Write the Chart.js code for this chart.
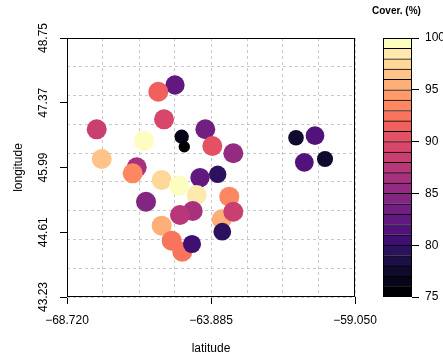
<!DOCTYPE html>
<html>
<head>
<meta charset="utf-8">
<script src="https://cdn.jsdelivr.net/npm/chart.js@4.4.1/dist/chart.umd.min.js"></script>
<style>
  html, body { margin: 0; padding: 0; background: #fff; overflow: hidden; }
  #wrap { position: relative; width: 443px; height: 358px; overflow: hidden; }
  #main { position: absolute; left: 0; top: 0; }
  #bar { position: absolute; left: 0; top: 0; }
  #cbTitle { position: absolute; left: 372px; top: 5px; font: bold 10px 'Liberation Sans', Arial, sans-serif; color: #000; white-space: nowrap; }
</style>
</head>
<body>
<div id="wrap">
  <canvas id="main" width="443" height="358"></canvas>
  <canvas id="bar" width="480" height="358"></canvas>
  <div id="cbTitle">Cover. (%)</div>
</div>
<script>
// stations (drawing order)
const latitude = [-65.094, -65.655, -65.463, -67.723, -66.135, -64.869, -64.782, -64.076, -63.841, -63.136,
  -67.555, -66.380, -66.514, -65.540, -64.959, -64.254, -63.660, -64.365, -66.067, -63.271,
  -63.526, -63.136, -63.506, -64.499, -64.926, -65.540, -65.205, -64.849, -64.523,
  -61.031, -60.393, -60.752, -60.057];
const longitude = [47.748, 47.605, 47.017, 46.804, 46.555, 46.646, 46.433, 46.804, 46.448, 46.293,
  46.171, 45.994, 45.866, 45.724, 45.602, 45.773, 45.845, 45.404, 45.261, 45.368,
  44.886, 45.048, 44.622, 45.063, 44.978, 44.750, 44.430, 44.195, 44.360,
  46.625, 46.668, 46.101, 46.171];
const cover = [82, 91, 89, 88, 99.5, 76, 75, 83, 90, 85,
  96, 86, 93, 97, 99, 82, 79, 98, 84, 93,
  95, 88, 79.5, 86, 87, 95.5, 92, 92, 80,
  77, 81, 81, 77.5];

const xTicks = [-68.720, -63.885, -59.050];
const yTicks = [43.23, 44.61, 45.99, 47.37, 48.75];
const coverTicks = [75, 80, 85, 90, 95, 100];
const coverMin = 75, coverMax = 100;

// magma, 25 bands from 75 to 100
const palette = ['#000004', '#060519', '#100B2D', '#1D1046', '#2C115E', '#3F1072', '#51127C', '#61197F',
  '#711F81', '#822681', '#942B80', '#A6317D', '#B73779', '#C93F72', '#D8466B', '#E55164',
  '#F0605F', '#F8745D', '#FB8861', '#FE9B6B', '#FEAF78', '#FEC388', '#FED799', '#FDEAAC', '#FCFDBF'];

const FONT = "'Liberation Sans', Arial, Helvetica, sans-serif";
const TXT = '#000';

function band(v) { return Math.max(0, Math.min(palette.length - 1, Math.floor(v - coverMin))); }
function fmtTick(v) { return (v < 0 ? '\u2212' : '') + Math.abs(v).toFixed(3); }

const frame = {
  id: 'frame',
  afterDatasetsDraw(chart) {
    const a = chart.chartArea, ctx = chart.ctx;
    ctx.save();
    ctx.strokeStyle = '#000';
    ctx.lineWidth = 1;
    ctx.strokeRect(Math.round(a.left) + 0.5, Math.round(a.top) + 0.5,
      Math.round(a.right - a.left) - 1, Math.round(a.bottom - a.top) - 1);
    ctx.restore();
  }
};

const xMin = xTicks[0], xMax = xTicks[xTicks.length - 1];
const yMin = yTicks[0], yMax = yTicks[yTicks.length - 1];

new Chart(document.getElementById('main'), {
  type: 'scatter',
  data: {
    datasets: [{
      data: latitude.map((x, i) => ({ x: x, y: longitude[i] })),
      pointBackgroundColor: ctx => palette[band(cover[ctx.dataIndex])],
      pointBorderWidth: 0,
      pointRadius: ctx => Math.min(10, 5.7 + 1.5 * Math.sqrt(Math.max(0, cover[ctx.dataIndex] - coverMin))),
      pointHoverRadius: ctx => Math.min(10, 5.7 + 1.5 * Math.sqrt(Math.max(0, cover[ctx.dataIndex] - coverMin)))
    }]
  },
  options: {
    responsive: false, animation: false, devicePixelRatio: 1, events: [],
    layout: { padding: { left: 0, top: 38, right: 88, bottom: 0 } },
    plugins: { legend: { display: false }, tooltip: { enabled: false } },
    scales: {
      x: {
        type: 'linear', position: 'bottom', min: xMin, max: xMax,
        afterBuildTicks: s => { s.ticks = xTicks.map(v => ({ value: v })); },
        afterFit: s => { s.height = 61; },
        grid: { drawOnChartArea: false, tickLength: 7, tickColor: '#000' },
        border: { display: false },
        ticks: { padding: 9, maxRotation: 0, autoSkip: false, color: TXT, font: { family: FONT, size: 12 }, callback: v => fmtTick(v) },
        title: { display: true, text: 'latitude', color: TXT, font: { family: FONT, size: 12 }, padding: { top: 0, bottom: 2 } }
      },
      y: {
        type: 'linear', position: 'left', min: yMin, max: yMax,
        afterBuildTicks: s => { s.ticks = yTicks.map(v => ({ value: v })); },
        afterFit: s => { s.width = 67; },
        grid: { drawOnChartArea: false, tickLength: 7, tickColor: '#000' },
        border: { display: false },
        ticks: { padding: 1, minRotation: 90, maxRotation: 90, crossAlign: 'center', autoSkip: false, color: TXT, font: { family: FONT, size: 12 }, callback: v => v.toFixed(2) },
        title: { display: true, text: 'longitude', color: TXT, font: { family: FONT, size: 12 }, padding: { top: 11, bottom: 0 } }
      },
      xg: {
        type: 'linear', position: 'top', min: xMin, max: xMax,
        afterBuildTicks: s => { const n = 8, st = (xMax - xMin) / n; s.ticks = []; for (let i = 0; i <= n; i++) s.ticks.push({ value: xMin + i * st }); },
        afterFit: s => { s.height = 0; },
        grid: { color: '#c8c8c8', lineWidth: 1, drawTicks: false },
        border: { display: false, dash: [3, 3] },
        ticks: { display: false }
      },
      yg: {
        type: 'linear', position: 'right', min: yMin, max: yMax,
        afterBuildTicks: s => { const n = 9, st = (yMax - yMin) / n; s.ticks = []; for (let i = 0; i <= n; i++) s.ticks.push({ value: yMin + i * st }); },
        afterFit: s => { s.width = 0; },
        grid: { color: '#c8c8c8', lineWidth: 1, drawTicks: false },
        border: { display: false, dash: [3, 3] },
        ticks: { display: false }
      }
    }
  },
  plugins: [frame]
});

// colour bar
const bandEdges = palette.map((c, i) => [coverMin + i, coverMin + i + 1]);

new Chart(document.getElementById('bar'), {
  type: 'bar',
  data: {
    labels: [''],
    datasets: bandEdges.map((e, i) => ({
      data: [e],
      backgroundColor: palette[i],
      borderColor: '#000',
      borderWidth: 1,
      borderSkipped: 'start',
      grouped: false,
      barPercentage: 1,
      categoryPercentage: 1
    }))
  },
  options: {
    responsive: false, animation: false, devicePixelRatio: 1, events: [],
    layout: { padding: { left: 383, top: 38, right: 28, bottom: 61 } },
    plugins: { legend: { display: false }, tooltip: { enabled: false } },
    scales: {
      x: { display: false },
      y: {
        position: 'right', min: coverMin, max: coverMax,
        afterBuildTicks: s => { s.ticks = coverTicks.map(v => ({ value: v })); },
        afterFit: s => { s.width = 40; },
        grid: { drawOnChartArea: false, tickLength: 7, tickColor: '#000' },
        border: { display: false },
        ticks: { padding: 6, color: TXT, font: { family: FONT, size: 12 } }
      }
    }
  },
  plugins: [frame]
});
</script>
</body>
</html>
